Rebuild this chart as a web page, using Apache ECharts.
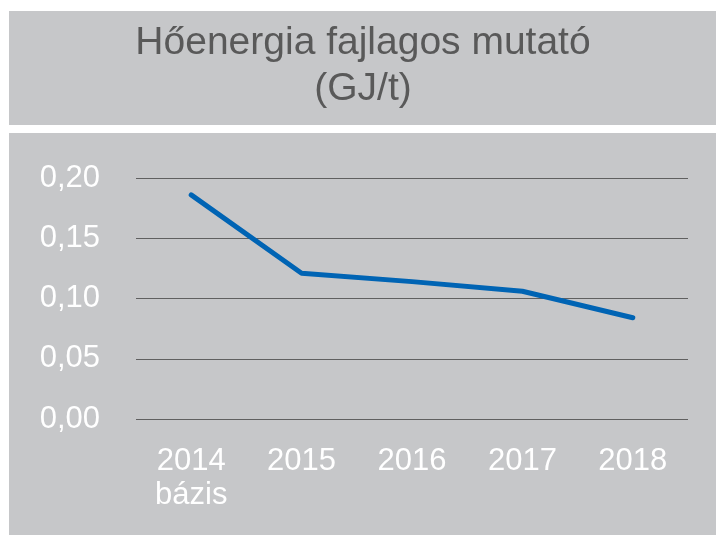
<!DOCTYPE html>
<html>
<head>
<meta charset="utf-8">
<script src="https://cdn.jsdelivr.net/npm/echarts@6/dist/echarts.min.js"></script>
<style>
  html, body { margin: 0; padding: 0; background: #ffffff; }
  #chart { width: 716px; height: 535px; }
</style>
</head>
<body>
<div id="chart"></div>
<script>
// years on the x axis (first one is the base year)
const years = ['2014\nbázis', '2015', '2016', '2017', '2018']
// specific heat energy indicator, GJ/t
const values = [0.186, 0.121, 0.114, 0.106, 0.084]
// y axis ticks
const yTicks = [0, 0.05, 0.10, 0.15, 0.20]

const panelColor = '#c6c7c9'
const chart = echarts.init(document.getElementById('chart'))

const option = {
  backgroundColor: '#ffffff',
  animation: false,
  // the two grey panels behind title and plot, plus the title text
  graphic: [
    { type: 'rect', z: -10, shape: { x: 9, y: 11, width: 707, height: 114 }, style: { fill: panelColor } },
    { type: 'rect', z: -10, shape: { x: 9, y: 133, width: 707, height: 402 }, style: { fill: panelColor } },
    {
      type: 'text',
      x: 363,
      y: 20,
      style: {
        text: 'Hőenergia fajlagos mutató\n(GJ/t)',
        align: 'center',
        verticalAlign: 'top',
        fontFamily: 'Liberation Sans',
        fontSize: 39,
        lineHeight: 46,
        fill: '#595959'
      }
    }
  ],
  grid: {
    left: 136,
    right: 28,
    top: 178,
    bottom: 116
  },
  xAxis: {
    type: 'category',
    data: years,
    boundaryGap: true,
    axisLine: { show: false },
    axisTick: { show: false },
    axisLabel: {
      margin: 25,
      fontFamily: 'Liberation Sans',
      fontSize: 31,
      lineHeight: 34,
      color: '#ffffff'
    }
  },
  yAxis: {
    type: 'value',
    min: yTicks[0],
    max: yTicks[yTicks.length - 1],
    interval: 0.05,
    axisLine: { show: false },
    axisTick: { show: false },
    axisLabel: {
      margin: 36,
      fontFamily: 'Liberation Sans',
      fontSize: 31,
      color: '#ffffff',
      formatter: v => v.toFixed(2).replace('.', ',')
    },
    splitLine: {
      lineStyle: { color: '#606060', width: 1 }
    }
  },
  series: [
    {
      type: 'line',
      data: values,
      symbol: 'none',
      lineStyle: { color: '#0064b4', width: 5, cap: 'round', join: 'round' }
    }
  ]
}

chart.setOption(option)
</script>
</body>
</html>
